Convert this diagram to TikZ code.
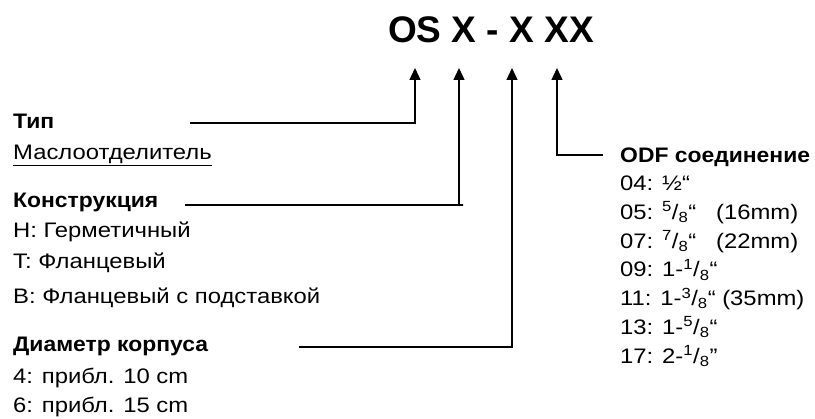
\documentclass[tikz,border=0pt]{standalone}
\usepackage{fontspec}
\setmainfont{Liberation Sans}
\newfontfamily\regfont[FakeStretch=1.135]{Liberation Sans}
\newfontfamily\hdrfont[FakeStretch=1.09]{Liberation Sans}
\usetikzlibrary{arrows.meta}
\newcommand{\fr}[2]{\textsuperscript{#1}/\textsubscript{#2}}
\begin{document}
\begin{tikzpicture}[x=1pt,y=-1pt,
  lbl/.style={anchor=base west,inner sep=0pt,font=\regfont\fontsize{21}{24}\selectfont},
  hdr/.style={lbl,font=\hdrfont\bfseries\fontsize{21}{24}\selectfont},
  conn/.style={line width=1.4pt,-{Triangle[length=12pt,width=11pt]}}]
\useasboundingbox (0,0) rectangle (815,419);
% title
\node[anchor=base west,inner sep=0pt,font=\fontsize{37}{40}\selectfont\bfseries] (title) at (388,43) {OS X - X XX};
\coordinate (t1) at (415,68);
\coordinate (t2) at (459,68);
\coordinate (t3) at (512,68);
\coordinate (t4) at (557,68);
% left labels
\node[hdr] (typ) at (13,129) {Тип};
\node[lbl] (typv) at (13,160) {\underline{Маслоотделитель}};
\node[hdr] (kon) at (13,208) {Конструкция};
\node[lbl] (k1) at (13,238) {H: Герметичный};
\node[lbl] (k2) at (13,269) {T: Фланцевый};
\node[lbl] (k3) at (13,304) {B: Фланцевый с подставкой};
\node[hdr] (dia) at (13,352) {Диаметр корпуса};
\node[lbl] (d1) at (13,384) {4: прибл. 10 cm};
\node[lbl] (d2) at (13,413) {6: прибл. 15 cm};
% right labels
\node[hdr] (odf) at (620,163) {ODF соединение};
\node[lbl] (o1) at (620,190.5) {04: ½“};
\node[lbl] (o2) at (620,219.3) {05: \fr{5}{8}“~~~(16mm)};
\node[lbl] (o3) at (620,248.1) {07: \fr{7}{8}“~~~(22mm)};
\node[lbl] (o4) at (620,276.9) {09: 1-\fr{1}{8}“};
\node[lbl] (o5) at (620,305.7) {11: 1-\fr{3}{8}“ (35mm)};
\node[lbl] (o6) at (620,334.5) {13: 1-\fr{5}{8}“};
\node[lbl] (o7) at (620,363.3) {17: 2-\fr{1}{8}”};
% connector start points
\coordinate (s1) at (190,123);
\coordinate (s2) at (185,205);
\coordinate (s3) at (299,347);
\coordinate (s4) at (603,155);
\draw[conn] (s1) -| (t1);
\draw[conn] (s2) -- (463,205) -| (t2);
\draw[conn] (s3) -| (t3);
\draw[conn] (s4) -| (t4);
\end{tikzpicture}
\end{document}
